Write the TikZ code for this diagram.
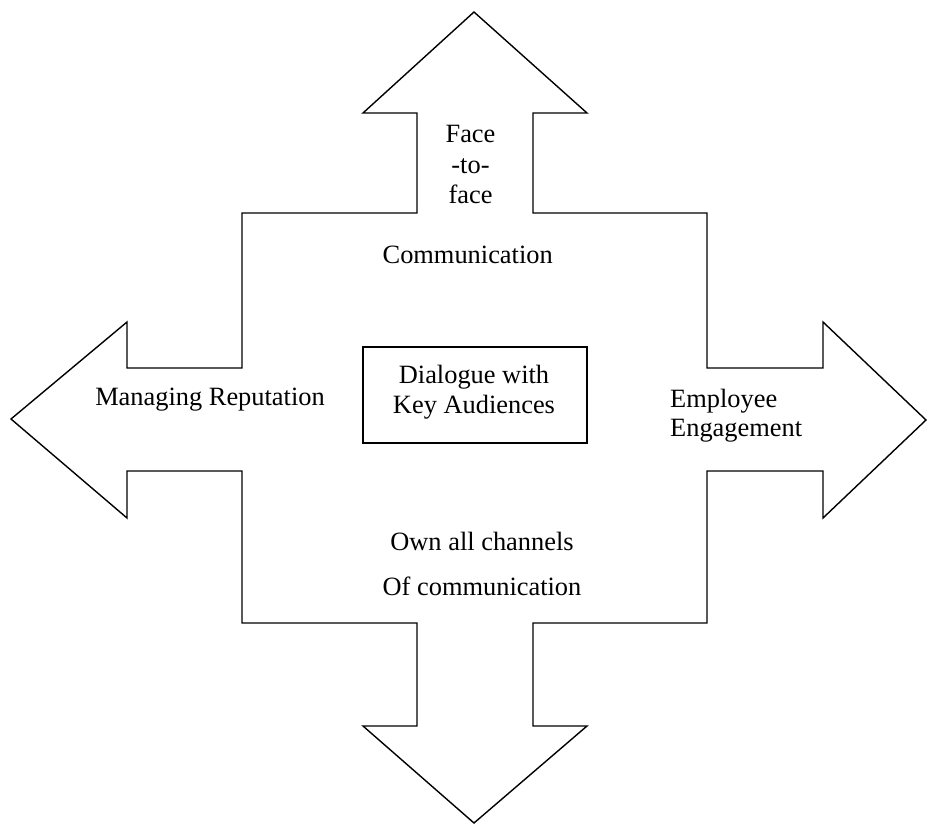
\documentclass[tikz,border=0pt]{standalone}
\usepackage{fontspec}
\setmainfont{Liberation Serif}
\begin{document}
\begin{tikzpicture}[x=1pt,y=-1pt,
  outline/.style={draw=black,line width=1.4pt,line join=miter},
  lbl/.style={inner sep=0pt,anchor=base,font=\fontsize{26.4}{31}\selectfont},
  lbll/.style={inner sep=0pt,anchor=base west,font=\fontsize{26.4}{31}\selectfont}]
\useasboundingbox (0,0) rectangle (927,825);
\draw[outline] (474,12) -- (587,113) -- (533,113) -- (533,213) -- (707,213) -- (707,368)
  -- (823,368) -- (823,322) -- (926,420) -- (823,518) -- (823,471) -- (707,471)
  -- (707,623) -- (533,623) -- (533,726) -- (587,726) -- (474,823) -- (363,726)
  -- (417,726) -- (417,623) -- (242,623) -- (242,471) -- (127,471) -- (127,518)
  -- (11,419) -- (127,322) -- (127,368) -- (242,368) -- (242,213) -- (417,213)
  -- (417,113) -- (363,113) -- cycle;
\draw[outline] (363,347) rectangle (587,443);
\node[lbl] (face1) at (470.5,142) {Face};
\node[lbl] (face2) at (470.5,173) {-to-};
\node[lbl] (face3) at (470.5,203) {face};
\node[lbl] (comm) at (467.7,263) {Communication};
\node[lbl] (rep) at (210,405) {Managing Reputation};
\node[lbll] (emp1) at (670,407) {Employee};
\node[lbll] (emp2) at (670,436) {Engagement};
\node[lbl] (dia1) at (474,383) {Dialogue with};
\node[lbl] (dia2) at (474,413) {Key Audiences};
\node[lbl] (own1) at (482,550) {Own all channels};
\node[lbl] (own2) at (482,595) {Of communication};
\end{tikzpicture}
\end{document}
